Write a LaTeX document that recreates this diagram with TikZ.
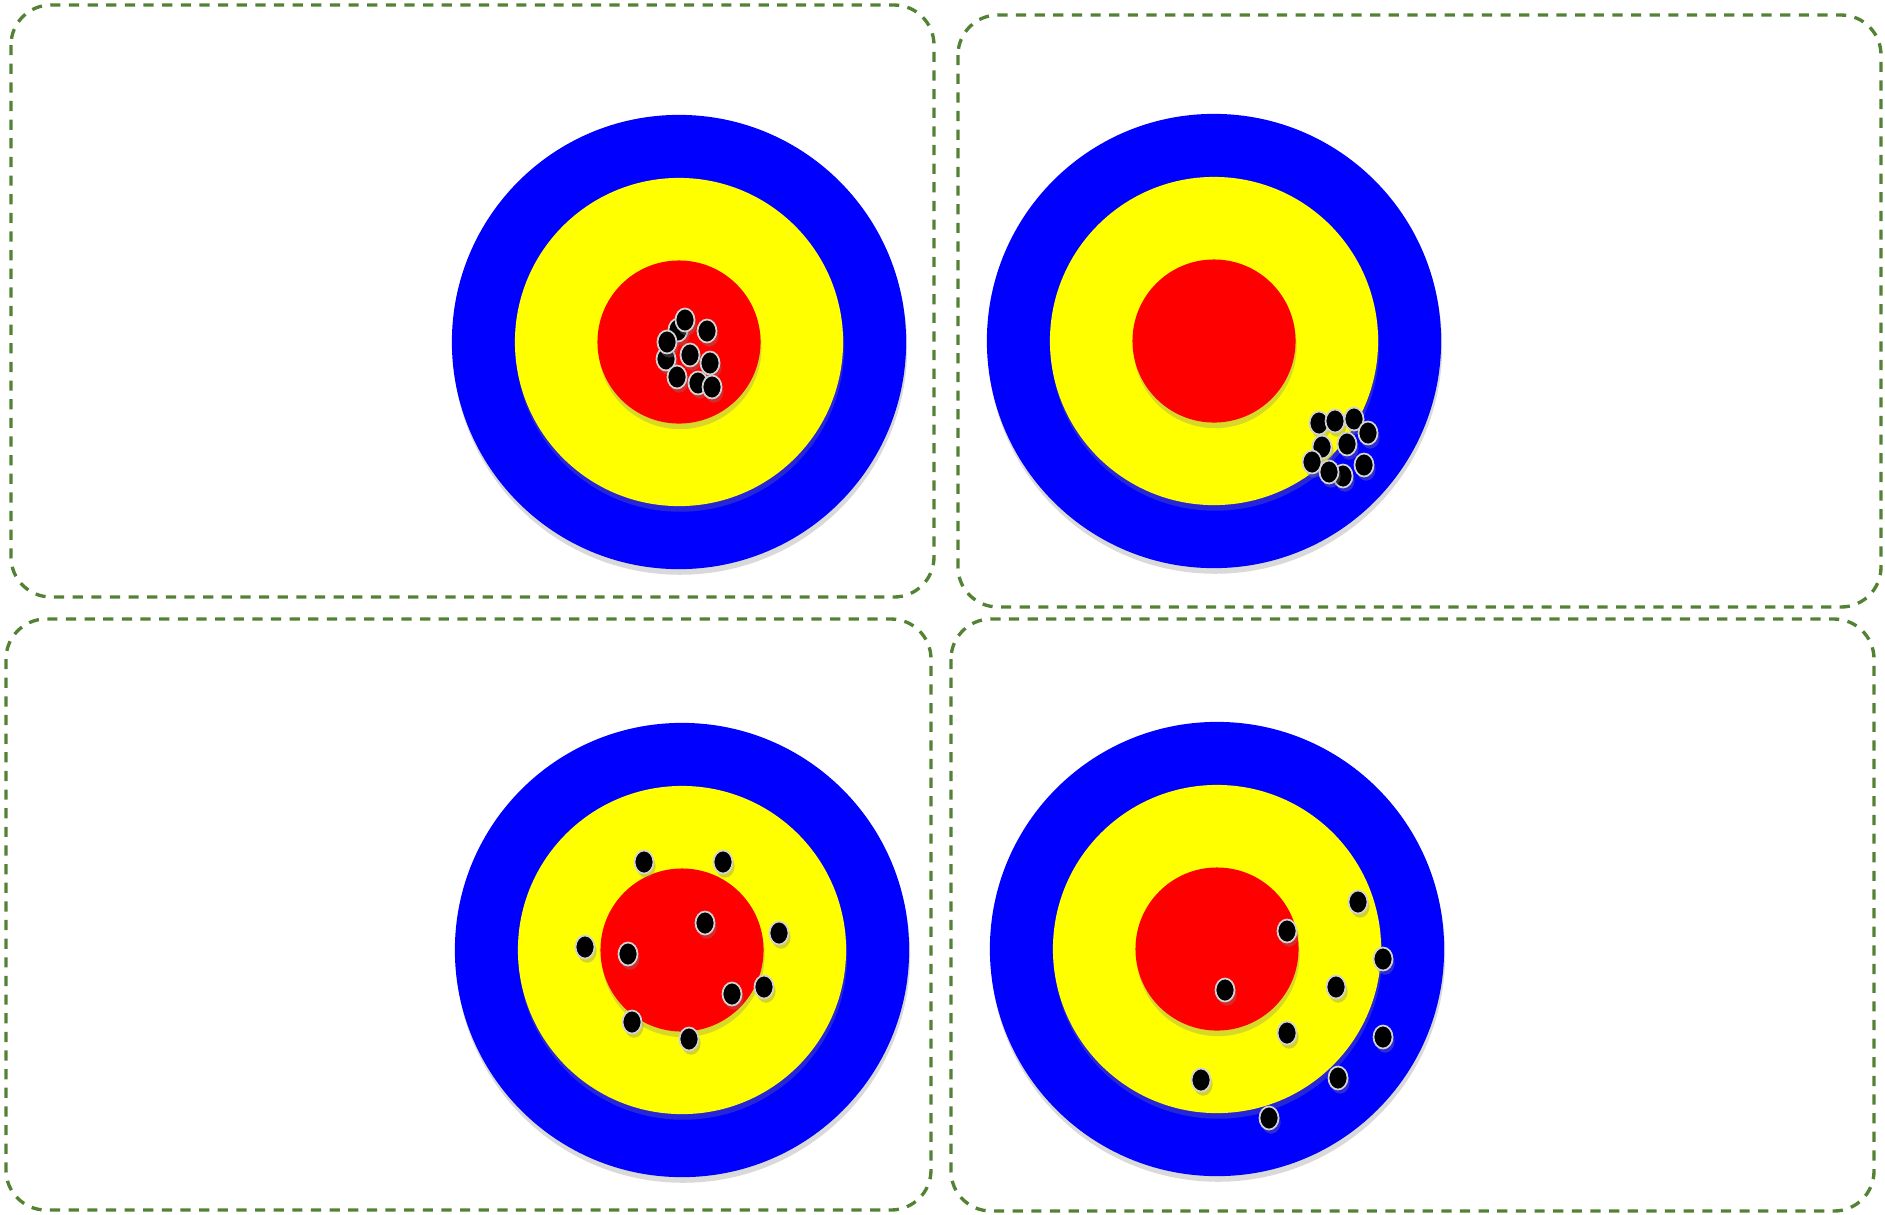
\documentclass[tikz,border=0pt]{standalone}
\usepackage{tikz}
\usetikzlibrary{shapes.geometric,shadows}
\definecolor{rahmengruen}{RGB}{84,130,53}
\definecolor{ringblau}{RGB}{0,0,255}
\definecolor{ringgelb}{RGB}{255,255,0}
\definecolor{ringrot}{RGB}{255,0,0}
\tikzset{
  rahmen/.style={draw=rahmengruen, line width=0.95pt, dash pattern=on 2.9pt off 2.4pt, rounded corners=0.4cm},
  ring/.style={circle, inner sep=0pt, drop shadow={shadow xshift=0.3pt, shadow yshift=-1.6pt, opacity=0.3}},
  blauring/.style={ring, fill=ringblau, minimum size=4.54cm},
  gelbring/.style={ring, fill=ringgelb, minimum size=3.28cm},
  rotring/.style={ring, fill=ringrot, minimum size=1.63cm},
  treffer/.style={ellipse, fill=black, draw=gray!35, line width=0.5pt, inner sep=0pt,
    minimum width=0.19cm, minimum height=0.23cm,
    drop shadow={shadow xshift=0.6pt, shadow yshift=-1.2pt, opacity=0.35}}
}

\begin{document}
\begin{tikzpicture}[x=0.01cm, y=-0.01cm]
	\useasboundingbox (0,0) rectangle (1885,1214);
	
	% Rahmen
	\draw[rahmen] (11,5) rectangle (934,597);
	\draw[rahmen] (958,15) rectangle (1881,607);
	\draw[rahmen] (6,619) rectangle (931,1210);
	\draw[rahmen] (951,619) rectangle (1874,1211);
	
	% --- Scheibe 1: eng und mittig ---
	\node[blauring] (s1blau) at (679,342) {};
	\node[gelbring] (s1gelb) at (679,342) {};
	\node[rotring] (s1rot) at (679,342) {};
	\foreach \p [count=\i] in {(678,330), (685,320), (707,331), (666,359), (667,342),
		(690,355), (710,363), (677,377), (698,383), (712,387)}
		\node[treffer] (s1t\i) at \p {};
	
	% --- Scheibe 2: eng, aber daneben ---
	\node[blauring] (s2blau) at (1214,341) {};
	\node[gelbring] (s2gelb) at (1214,341) {};
	\node[rotring] (s2rot) at (1214,341) {};
	\foreach \p [count=\i] in {(1319,423), (1335,421), (1354,419), (1368,433), (1322,447),
		(1347,444), (1312,462), (1343,476), (1329,472), (1364,465)}
		\node[treffer] (s2t\i) at \p {};
	
	% --- Scheibe 3: gestreut um die Mitte ---
	\node[blauring] (s3blau) at (682,950) {};
	\node[gelbring] (s3gelb) at (682,950) {};
	\node[rotring] (s3rot) at (682,950) {};
	\foreach \p [count=\i] in {(644,862), (723,862), (705,923), (779,933), (585,947),
		(628,954), (732,994), (764,987), (632,1022), (689,1039)}
		\node[treffer] (s3t\i) at \p {};
	
	% --- Scheibe 4: gestreut und daneben ---
	\node[blauring] (s4blau) at (1217,949) {};
	\node[gelbring] (s4gelb) at (1217,949) {};
	\node[rotring] (s4rot) at (1217,949) {};
	\foreach \p [count=\i] in {(1358,902), (1287,931), (1383,959), (1225,990), (1336,987),
		(1287,1033), (1383,1037), (1201,1080), (1338,1078), (1269,1118)}
		\node[treffer] (s4t\i) at \p {};
	
\end{tikzpicture}
\end{document}
